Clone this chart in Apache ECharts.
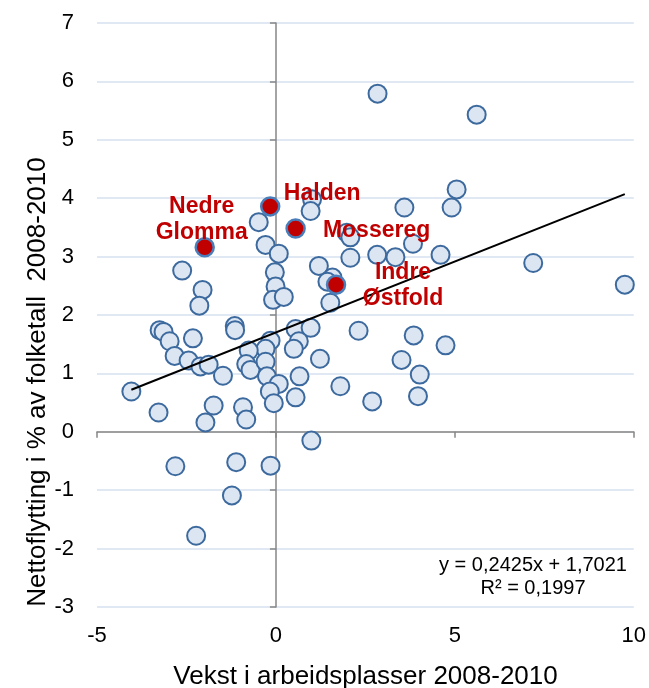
<!DOCTYPE html>
<html>
<head>
<meta charset="utf-8">
<script src="https://cdn.jsdelivr.net/npm/echarts@6/dist/echarts.min.js"></script>
<style>
html,body{margin:0;padding:0;background:#fff;}
#chart{width:649px;height:688px;}
</style>
</head>
<body>
<div id="chart"></div>
<script>
// Data
const blueX = [2.84, 5.61, 5.05, 4.91, 3.59, 4.60, 7.19, 9.75, 3.83, 2.83, 3.34, 1.01, 0.97, -0.48, 1.98, 2.08,
  -0.29, 0.08, 2.08, 1.20, -0.03, 1.58, 1.44, -0.01, -0.08, 0.22, 1.52, -2.62, -2.05, -2.14, -1.15, -1.14,
  -3.25, -3.14, -2.97, -2.32, -2.83, -2.44, -2.11, -1.88, -1.48, -4.04, -3.28, -1.74, -1.97, -0.92, -0.83,
  -0.15, -0.29, -0.76, -0.83, -0.71, -0.29, -0.25, 0.08, -0.17, -0.06, 0.55, 0.97, 0.64, 0.50, 1.23, 0.66,
  1.80, 0.55, 0.99, 2.31, 3.85, 4.74, 3.51, 4.02, 2.69, 3.97, -2.81, -1.11, -0.15, -1.23, -2.23];
const blueY = [5.79, 5.43, 4.15, 3.84, 3.84, 3.03, 2.89, 2.52, 3.22, 3.03, 2.99, 3.98, 3.78, 3.59, 3.41, 3.33,
  3.20, 3.05, 2.98, 2.84, 2.73, 2.64, 2.57, 2.49, 2.26, 2.31, 2.21, 2.76, 2.43, 2.16, 1.81, 1.74,
  1.74, 1.71, 1.55, 1.60, 1.30, 1.22, 1.12, 1.15, 0.96, 0.69, 0.33, 0.45, 0.16, 0.42, 0.21,
  1.56, 1.42, 1.39, 1.16, 1.06, 1.20, 0.95, 0.82, 0.69, 0.49, 1.76, 1.78, 1.55, 1.42, 1.25, 0.95,
  0.78, 0.59, -0.15, 1.73, 1.65, 1.48, 1.23, 0.98, 0.52, 0.61, -0.59, -0.52, -0.58, -1.09, -1.78];

const redNames = ['Nedre\nGlomma', 'Halden', 'Mossereg', 'Indre\nØstfold'];
const redX = [-1.99, -0.16, 0.55, 1.68];
const redY = [3.16, 3.86, 3.48, 2.52];

const trendX = [-4.04, 9.75];
const trendY = [0.72, 4.07];

const xTitle = 'Vekst i arbeidsplasser 2008-2010';
const yTitle = 'Nettoflytting i % av folketall  2008-2010';
const eqLine1 = 'y = 0,2425x + 1,7021';
const eqLine2 = 'R² = 0,1997';

// label offsets (styling, pixels from point centre to label centre)
const redOffsets = [[-3, -28], [52, -13], [81, 2], [67, 1]];

const FONT = '"Liberation Sans", Arial, sans-serif';

const chart = echarts.init(document.getElementById('chart'), null, {renderer: 'canvas'});

const blueData = blueX.map((x, i) => [x, blueY[i]]);
const redData = redX.map((x, i) => ({value: [x, redY[i]], name: redNames[i]}));
const trendData = trendX.map((x, i) => [x, trendY[i]]);

const axisGray = '#868686';
const gridBlue = '#d6e1ef';

const option = {
  backgroundColor: '#ffffff',
  animation: false,
  textStyle: {fontFamily: FONT},
  grid: {left: 97, right: 15, top: 23, bottom: 81, containLabel: false},
  xAxis: [
    {
      type: 'value', min: -5, max: 10, interval: 5, position: 'bottom',
      axisLine: {show: false, onZero: false},
      axisTick: {show: false},
      splitLine: {show: false},
      axisLabel: {fontSize: 22, color: '#000', margin: 18, fontFamily: FONT}
    },
    {
      type: 'value', min: -5, max: 10, interval: 5, position: 'bottom',
      axisLine: {show: true, onZero: true, onZeroAxisIndex: 0, lineStyle: {color: axisGray, width: 1.5}},
      axisTick: {show: true, length: 6, lineStyle: {color: axisGray, width: 1.5}},
      splitLine: {show: false},
      axisLabel: {show: false}
    }
  ],
  yAxis: [
    {
      type: 'value', min: -3, max: 7, interval: 1, position: 'left',
      axisLine: {show: false, onZero: false},
      axisTick: {show: false},
      splitLine: {show: true, lineStyle: {color: gridBlue, width: 1.5}},
      axisLabel: {fontSize: 22, color: '#000', margin: 23, fontFamily: FONT}
    },
    {
      type: 'value', min: -3, max: 7, interval: 1, position: 'left',
      axisLine: {show: true, onZero: true, onZeroAxisIndex: 0, lineStyle: {color: axisGray, width: 1.5}},
      axisTick: {show: true, length: 6, lineStyle: {color: axisGray, width: 1.5}},
      splitLine: {show: false},
      axisLabel: {show: false}
    }
  ],
  series: [
    {
      type: 'scatter', xAxisIndex: 0, yAxisIndex: 0, z: 2,
      symbol: 'circle', symbolSize: 18,
      itemStyle: {color: '#dce6f2', borderColor: '#3d6a9e', borderWidth: 2, opacity: 1},
      data: blueData
    },
    {
      type: 'line', xAxisIndex: 0, yAxisIndex: 0, z: 3,
      symbol: 'none', silent: true,
      lineStyle: {color: '#000', width: 2},
      data: trendData
    },
    {
      type: 'scatter', xAxisIndex: 0, yAxisIndex: 0, z: 4,
      symbol: 'circle', symbolSize: 18,
      itemStyle: {color: '#c00000', borderColor: '#4a7ebb', borderWidth: 2.5, opacity: 1},
      label: {
        show: true, position: 'inside', formatter: p => p.name,
        color: '#c00000', fontWeight: 'bold', fontSize: 23, fontFamily: FONT,
        lineHeight: 26, align: 'center', verticalAlign: 'middle'
      },
      labelLayout: function (params) {
        const o = redOffsets[params.dataIndex] || [0, 0];
        return {dx: o[0], dy: o[1], hideOverlap: false};
      },
      data: redData
    }
  ],
  graphic: [
    {
      type: 'text', x: 365.5, y: 677, z: 10,
      style: {text: xTitle, font: '26px ' + FONT, fill: '#000', textAlign: 'center', textVerticalAlign: 'middle'}
    },
    {
      type: 'text', x: 38, y: 382, rotation: Math.PI / 2, z: 10,
      style: {text: yTitle, font: '26px ' + FONT, fill: '#000', textAlign: 'center', textVerticalAlign: 'middle'}
    },
    {
      type: 'text', x: 533, y: 565, z: 10,
      style: {text: eqLine1, font: '20px ' + FONT, fill: '#000', textAlign: 'center', textVerticalAlign: 'middle'}
    },
    {
      type: 'text', x: 533, y: 588, z: 10,
      style: {text: eqLine2, font: '20px ' + FONT, fill: '#000', textAlign: 'center', textVerticalAlign: 'middle'}
    }
  ]
};
chart.setOption(option);
</script>
</body>
</html>
